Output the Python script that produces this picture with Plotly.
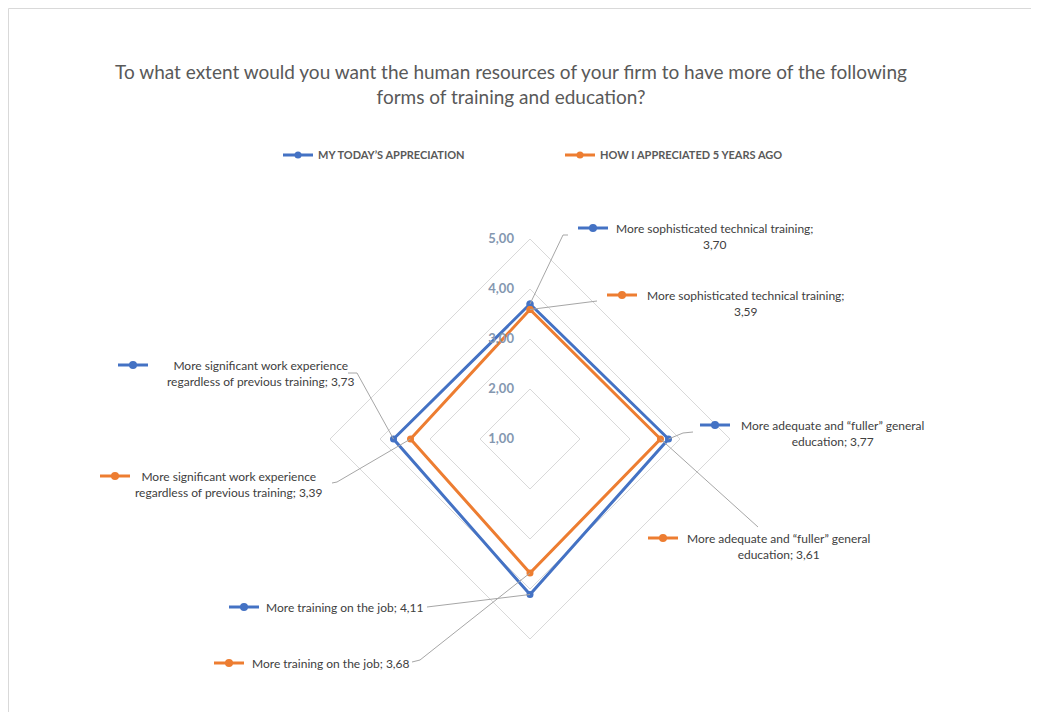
import math
import plotly.graph_objects as go

W, H = 1025, 712
OFF = 8  # page body margin; positions below are measured on screen

categories = [
    'More sophisticated technical training',
    'More adequate and “fuller” general education',
    'More training on the job',
    'More significant work experience regardless of previous training',
]
today_values = [3.70, 3.77, 4.11, 3.73]
past_values = [3.59, 3.61, 3.68, 3.39]
series_names = ['MY TODAY’S APPRECIATION', 'HOW I APPRECIATED 5 YEARS AGO']
radial_ticks = [1, 2, 3, 4, 5]

BLUE = '#4472C4'
ORANGE = '#ED7D31'
FONT = 'Lato'

# polar area in screen pixels: centre and radius of the outer ring
cx, cy, R = 530, 439, 200
r_min, r_max = 1, 5


def paper(x, y):
    return (x - OFF) / W, 1 - (y - OFF) / H


def point_px(value, idx):
    # angles follow the polar layout: clockwise from the top
    ang = [90, 0, -90, 180][idx]
    r = (value - r_min) / (r_max - r_min) * R
    return cx + r * math.cos(math.radians(ang)), cy - r * math.sin(math.radians(ang))


fig = go.Figure()
for name, vals, color in [(series_names[0], today_values, BLUE),
                          (series_names[1], past_values, ORANGE)]:
    fig.add_trace(go.Scatterpolar(
        r=vals + vals[:1],
        theta=categories + categories[:1],
        mode='lines+markers',
        name=name,
        line=dict(color=color, width=3),
        marker=dict(color=color, size=7),
    ))

# label layout: (series, category idx, text centre x, line1 y, lines, key x, leader path points)
labels = [
    (0, 0, 714, 228, ['More sophisticated technical training;', '3,70'], 578, [(568, 235), (563, 235)]),
    (1, 0, 745, 295, ['More sophisticated technical training;', '3,59'], 607, [(597, 301)]),
    (0, 1, 832, 425, ['More adequate and “fuller” general', 'education; 3,77'], 700, [(693, 432), (683, 433)]),
    (1, 1, 778, 538, ['More adequate and “fuller” general', 'education; 3,61'], 648, [(758, 527)]),
    (0, 2, 345, 607, ['More training on the job; 4,11'], 229, [(427, 607)]),
    (1, 2, 331, 663, ['More training on the job; 3,68'], 214, [(412, 662), (420, 660)]),
    (0, 3, 261, 365, ['More significant work experience', 'regardless of previous training; 3,73'], 118, [(348, 373), (357, 373)]),
    (1, 3, 229, 476, ['More significant work experience', 'regardless of previous training; 3,39'], 100, [(332, 483), (337, 482)]),
]

annotations = []
shapes = []
for s, idx, tx, ty, lines, kx, path in labels:
    color = [BLUE, ORANGE][s]
    val = [today_values, past_values][s][idx]
    px_, py_ = point_px(val, idx)
    n = len(lines)
    x, y = paper(tx, ty + (n - 1) * 8.5)
    annotations.append(dict(
        x=x, y=y, xref='paper', yref='paper', text='<br>'.join(lines),
        showarrow=False, xanchor='center', yanchor='middle', align='center',
        font=dict(family=FONT, size=12, color='#404040'),
    ))
    # legend key next to the label
    x0, y0 = paper(kx, ty)
    x1, _ = paper(kx + 30, ty)
    shapes.append(dict(type='line', xref='paper', yref='paper', x0=x0, x1=x1, y0=y0, y1=y0,
                       line=dict(color=color, width=3)))
    mx, my = paper(kx + 15, ty)
    shapes.append(dict(type='circle', xref='paper', yref='paper', xsizemode='pixel', ysizemode='pixel',
                       xanchor=mx, yanchor=my, x0=-4, x1=4, y0=-4, y1=4,
                       fillcolor=color, line=dict(color=color, width=0)))
    # leader line from label to the data point
    pts = path + [(px_, py_)]
    d = ''
    for i, (ax, ay) in enumerate(pts):
        qx, qy = paper(ax, ay)
        d += ('M' if i == 0 else 'L') + f' {qx} {qy} '
    shapes.append(dict(type='path', xref='paper', yref='paper', path=d,
                       line=dict(color='#A6A6A6', width=1)))

# chart area border
bx0, by0 = paper(8.5, 8.5)
bx1, _ = paper(1032.5, 8.5)
shapes.append(dict(type='rect', xref='paper', yref='paper',
                   x0=bx0, x1=bx1, y0=-0.05, y1=by0,
                   line=dict(color='#D9D9D9', width=1)))

dx0, dy0 = paper(cx - R, cy + R)
dx1, dy1 = paper(cx + R, cy - R)
lx, ly = paper(278, 155)
tx_, ty_ = paper(511, 79)

fig.update_layout(
    width=W, height=H,
    margin=dict(l=0, r=0, t=0, b=0),
    paper_bgcolor='white',
    separators=',.',
    font=dict(family=FONT, color='#595959'),
    title=dict(
        text='To what extent would you want the human resources of your firm to have more of the following<br>forms of training and education?',
        x=tx_, xanchor='center', y=ty_, yanchor='middle',
        font=dict(family=FONT, size=19, color='#595959'),
    ),
    showlegend=True,
    legend=dict(
        orientation='h', x=lx, xanchor='left', y=ly, yanchor='middle',
        font=dict(family=FONT, size=11, color='#595959', weight='bold'),
        itemwidth=30, entrywidth=237, bgcolor='rgba(0,0,0,0)',
    ),
    polar=dict(
        domain=dict(x=[dx0, dx1], y=[dy0, dy1]),
        bgcolor='rgba(0,0,0,0)',
        gridshape='linear',
        radialaxis=dict(
            range=[r_min, r_max], tickvals=radial_ticks, tickformat='.2f',
            angle=90, tickangle=90, side='counterclockwise', showline=False,
            ticks='outside', ticklen=11, tickcolor='rgba(0,0,0,0)',
            gridcolor='#D9D9D9', gridwidth=1,
            tickfont=dict(family=FONT, size=13, color='#8497B0', weight='bold'),
        ),
        angularaxis=dict(
            direction='clockwise', rotation=90, showticklabels=False, ticks='',
            showgrid=False, showline=True, linecolor='#D9D9D9', linewidth=1,
        ),
    ),
    annotations=annotations,
    shapes=shapes,
)

fig.write_html('out.html')
